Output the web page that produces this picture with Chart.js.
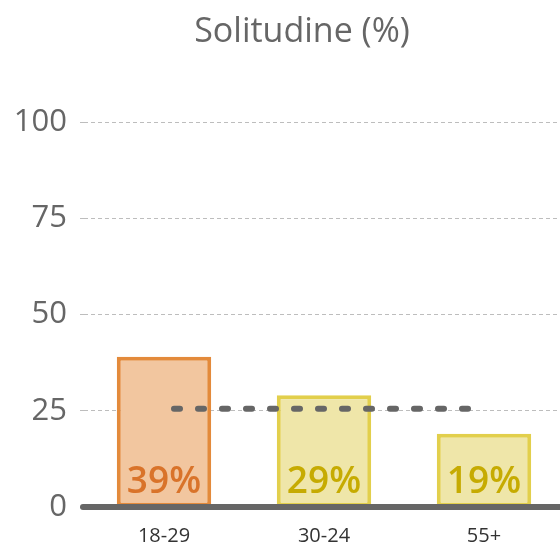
<!DOCTYPE html>
<html>
<head>
<meta charset="utf-8">
<script src="https://cdn.jsdelivr.net/npm/chart.js@4"></script>
<style>
  html, body { margin: 0; padding: 0; background: #fff; overflow: hidden; }
  #wrap { width: 564px; height: 544px; }
</style>
</head>
<body>
<div id="wrap"><canvas id="soloChart" width="564" height="544"></canvas></div>
<script>
const categories = ['18-29', '30-24', '55+'];
const values = [39, 29, 19];
const average = [25.5, 25.5, 25.5];
const yTicks = [0, 25, 50, 75, 100];
const titleText = 'Solitudine (%)';

const fillColors = ['#f2c69f', '#efe6a9', '#efe6a9'];
const borderColors = ['#e38a3b', '#e2cf4c', '#e2cf4c'];
const labelColors = ['#d9732a', '#c6ab02', '#c6ab02'];
const FONT = "'Open Sans', sans-serif";

// title (centred a bit right of the canvas middle), bar labels, zero axis line
const extras = {
    id: 'extras',
    afterDatasetsDraw(chart) {
        const ctx = chart.ctx;
        const y0 = chart.scales.y.getPixelForValue(0);
        const meta = chart.getDatasetMeta(1);
        ctx.save();
        ctx.font = '600 37px ' + FONT;
        ctx.textAlign = 'center';
        ctx.textBaseline = 'alphabetic';
        meta.data.forEach(function(bar, i) {
            ctx.fillStyle = labelColors[i];
            ctx.fillText(values[i] + '%', bar.x, y0 - 14);
        });
        ctx.strokeStyle = '#666666';
        ctx.lineWidth = 6;
        ctx.lineCap = 'round';
        ctx.beginPath();
        ctx.moveTo(chart.chartArea.left - 1, y0);
        ctx.lineTo(chart.chartArea.right, y0);
        ctx.stroke();

        ctx.font = '34px ' + FONT;
        ctx.fillStyle = '#666666';
        ctx.textBaseline = 'middle';
        ctx.fillText(titleText, 302, 32);
        ctx.restore();
    }
};

const ctx = document.getElementById('soloChart').getContext('2d');
const chart = new Chart(ctx, {
    type: 'bar',
    data: {
        labels: categories,
        datasets: [{
            type: 'line',
            data: average,
            borderColor: '#666666',
            borderWidth: 6,
            borderDash: [6, 18],
            borderDashOffset: 14,
            borderCapStyle: 'round',
            pointRadius: 0,
            fill: false,
            order: 0
        }, {
            data: values,
            backgroundColor: fillColors,
            borderColor: borderColors,
            borderWidth: 4,
            borderSkipped: false,
            barPercentage: 0.59,
            categoryPercentage: 1,
            order: 1
        }]
    },
    options: {
        responsive: false,
        animation: false,
        layout: { padding: { top: 122 } },
        plugins: {
            legend: { display: false },
            tooltip: { enabled: false },
            title: { display: false }
        },
        scales: {
            x: {
                afterFit: function(scale) { scale.height = 37; },
                grid: { display: false, drawTicks: false },
                border: { display: false },
                ticks: {
                    color: '#333333',
                    font: { family: FONT, size: 20 },
                    padding: 17
                }
            },
            y: {
                min: 0,
                max: 100,
                afterFit: function(scale) { scale.width = 84; },
                afterBuildTicks: function(scale) {
                    scale.ticks = yTicks.map(function(v) { return { value: v }; });
                },
                grid: {
                    color: '#bdbdbd',
                    lineWidth: 1,
                    tickLength: 4,
                    tickColor: '#bdbdbd',
                    tickBorderDash: [4, 3]
                },
                border: { display: false, dash: [4, 3] },
                ticks: {
                    color: '#666666',
                    font: { family: FONT, size: 31 },
                    padding: 13
                }
            }
        }
    },
    plugins: [extras]
});
</script>
</body>
</html>
